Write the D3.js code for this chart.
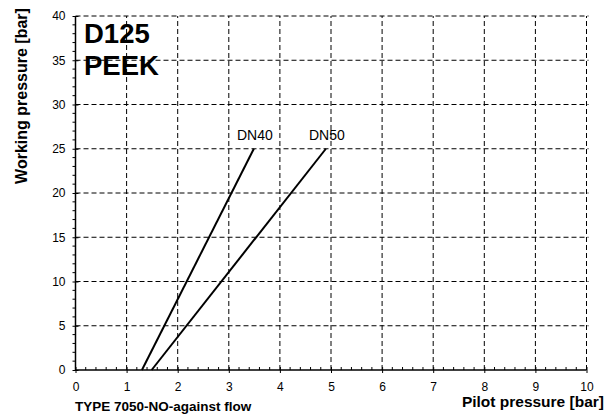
<!DOCTYPE html>
<html><head><meta charset="utf-8">
<script src="https://cdn.jsdelivr.net/npm/d3@7"></script>
<style>body{margin:0;background:#fff}svg{display:block;font-family:Arial,"Liberation Sans",sans-serif}</style>
</head><body>
<svg id="c" width="612" height="414"></svg>
<script>
const xTicks = [0,1,2,3,4,5,6,7,8,9,10];
const yTicks = [0,5,10,15,20,25,30,35,40];
const seriesNames = ["DN40","DN50"];
const dn40 = [{x:1.30,y:0},{x:3.49,y:25}];
const dn50 = [{x:1.49,y:0},{x:4.90,y:25}];
const titleLines = ["D125","PEEK"];

const svg = d3.select("#c");
const x = d3.scaleLinear().domain([0,10]).range([75.5,586.5]);
const y = d3.scaleLinear().domain([0,40]).range([370,16]);

// grid
const g = svg.append("g");
g.selectAll(".vg").data(xTicks.filter(d=>d>0)).join("line")
 .attr("x1",d=>x(d)).attr("x2",d=>x(d)).attr("y1",y(0)).attr("y2",y(40))
 .attr("stroke","#000").attr("stroke-width",1).attr("stroke-dasharray","5,3");
g.selectAll(".hg").data(yTicks.filter(d=>d>0)).join("line")
 .attr("y1",d=>y(d)).attr("y2",d=>y(d)).attr("x1",x(0)).attr("x2",x(10)+2)
 .attr("stroke","#000").attr("stroke-width",1).attr("stroke-dasharray","5,3");

// minor ticks
const xMinor = d3.range(0,10.001,0.2).filter(v=>Math.abs(v-Math.round(v))>1e-6);
svg.append("g").selectAll("line").data(xMinor).join("line")
 .attr("x1",d=>x(d)).attr("x2",d=>x(d)).attr("y1",y(0)).attr("y2",y(0)-3)
 .attr("stroke","#000").attr("stroke-width",1);
const yMinor = d3.range(0,40.001,1).filter(v=>v%5!==0);
svg.append("g").selectAll("line").data(yMinor).join("line")
 .attr("y1",d=>y(d)).attr("y2",d=>y(d)).attr("x1",x(0)).attr("x2",x(0)-3)
 .attr("stroke","#000").attr("stroke-width",1);

// axes
const xa = svg.append("g").attr("transform",`translate(0,${y(0)})`)
 .call(d3.axisBottom(x).tickValues(xTicks).tickSize(3).tickPadding(9).tickSizeOuter(0));
const ya = svg.append("g").attr("transform",`translate(${x(0)},0)`)
 .call(d3.axisLeft(y).tickValues(yTicks).tickSize(3).tickPadding(7).tickSizeOuter(0));
[xa,ya].forEach(a=>{
  a.select(".domain").attr("stroke","#000").attr("stroke-width",1.5);
  a.selectAll(".tick text").attr("font-size",12).attr("fill","#000").attr("font-family","Arial, 'Liberation Sans', sans-serif");
  a.selectAll(".tick line").attr("stroke","#000");
});
xa.selectAll(".tick line").attr("y1",-3).attr("y2",3);
ya.selectAll(".tick line").attr("x1",3).attr("x2",-3);
xa.select(".domain").attr("d",`M${x(0)},0H${x(10)}`);
ya.select(".domain").attr("d",`M0,${y(0)}V${y(40)}`);

// series lines
const line = d3.line().x(d=>x(d.x)).y(d=>y(d.y));
[dn40,dn50].forEach((s,i)=>{
  svg.append("path").attr("d",line(s)).attr("fill","none").attr("stroke","#000").attr("stroke-width",2);
  const top = s[s.length-1];
  svg.append("text").attr("x",x(top.x)+1).attr("y",y(top.y)-9)
   .attr("text-anchor","middle").attr("font-size",14).text(seriesNames[i]);
});

// title
titleLines.forEach((t,i)=>{
  svg.append("text").attr("x",84).attr("y",43+i*32).attr("font-size",27.5).attr("font-weight","bold").text(t);
});

// axis titles
svg.append("text").attr("transform","translate(27,96) rotate(-90)")
 .attr("text-anchor","middle").attr("font-size",16).attr("font-weight","bold").text("Working pressure [bar]");
svg.append("text").attr("x",604).attr("y",407).attr("text-anchor","end")
 .attr("font-size",15.5).attr("font-weight","bold").text("Pilot pressure [bar]");
svg.append("text").attr("x",75).attr("y",411)
 .attr("font-size",13.5).attr("font-weight","bold").text("TYPE 7050-NO-against flow");
</script>
</body></html>
